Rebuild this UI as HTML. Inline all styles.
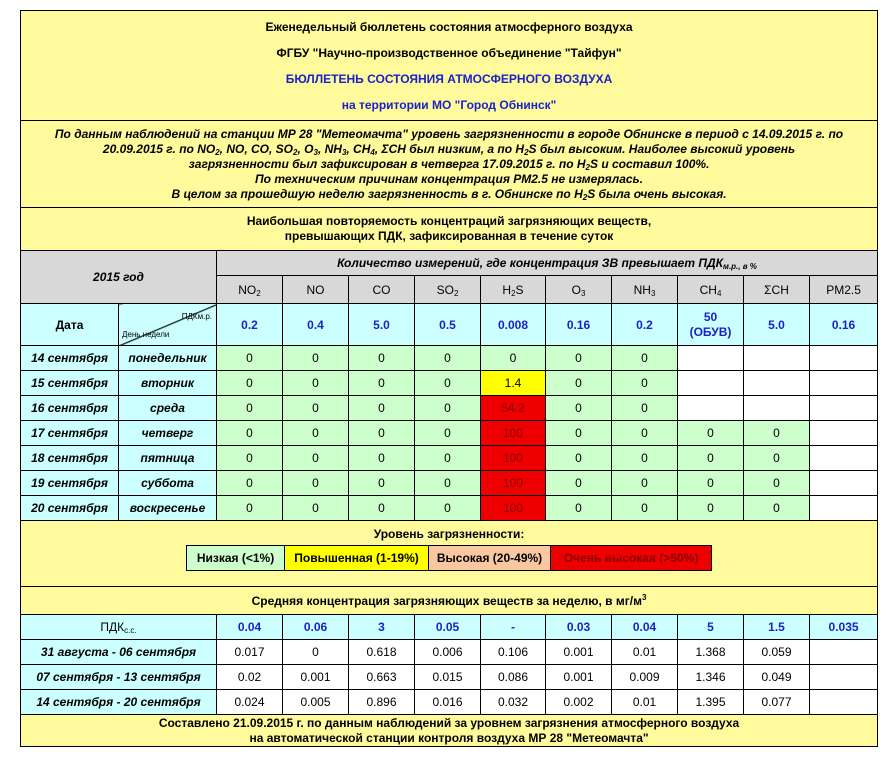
<!DOCTYPE html>
<html><head><meta charset="utf-8"><style>
body{margin:0;background:#fff;width:894px;height:768px;overflow:hidden;font-family:"Liberation Sans",Arial,sans-serif;}
.box{position:absolute;left:20px;top:10px;width:857px;}
table{border-collapse:collapse;table-layout:fixed;width:857px;}
td{border:1px solid #000;text-align:center;font-size:12px;padding:0;color:#000;overflow:hidden;white-space:nowrap}
.y{background:#fffa9c;font-weight:bold}
.g{background:#d8d8d8}
.c{background:#ccffff}
.l{background:#ccffcc}
.w{background:#fff}
.yl{background:#ffff00}
.r{background:#ee0000;color:#800}
.b{color:#1a22c8;font-weight:bold}
.bi{font-weight:bold;font-style:italic}
sub{font-size:8px;line-height:0;vertical-align:-2px}
sup{line-height:0}
</style></head><body>
<div class="box">
<table>
<colgroup><col style="width:98px"><col style="width:98px"><col style="width:66px"><col style="width:66px"><col style="width:66px"><col style="width:66px"><col style="width:65px"><col style="width:66px"><col style="width:66px"><col style="width:66px"><col style="width:66px"><col style="width:68px"></colgroup>
<tr style="height:110px"><td colspan="12" class="y" style="line-height:26px">Еженедельный бюллетень состояния атмосферного воздуха<br>ФГБУ "Научно-производственное объединение "Тайфун"<br><span style="color:#1a22c8">БЮЛЛЕТЕНЬ СОСТОЯНИЯ АТМОСФЕРНОГО ВОЗДУХА</span><br><span style="color:#1a22c8">на территории МО "Город Обнинск"</span></td></tr>
<tr style="height:87px"><td colspan="12" class="y" style="font-style:italic;line-height:15px;font-size:12px">По данным наблюдений на станции МР 28 "Метеомачта" уровень загрязненности в городе Обнинске в период с 14.09.2015 г. по<br>20.09.2015 г. по NO<sub>2</sub>, NO, CO, SO<sub>2</sub>, O<sub>3</sub>, NH<sub>3</sub>, CH<sub>4</sub>, ΣCH был низким, а по H<sub>2</sub>S был высоким. Наиболее высокий уровень<br>загрязненности был зафиксирован в четверга 17.09.2015 г. по H<sub>2</sub>S и составил 100%.<br>По техническим причинам концентрация PM2.5 не измерялась.<br>В целом за прошедшую неделю загрязненность в г. Обнинске по H<sub>2</sub>S была очень высокая.</td></tr>
<tr style="height:43px"><td colspan="12" class="y" style="line-height:15px">Наибольшая повторяемость концентраций загрязняющих веществ,<br>превышающих ПДК, зафиксированная в течение суток</td></tr>
<tr style="height:25px"><td colspan="2" rowspan="2" class="g bi">2015 год</td><td colspan="10" class="g bi">Количество измерений, где концентрация ЗВ превышает ПДК<sub>м.р., в %</sub></td></tr>
<tr style="height:28px" class="g"><td class="g">NO<sub>2</sub></td><td class="g">NO</td><td class="g">CO</td><td class="g">SO<sub>2</sub></td><td class="g">H<sub>2</sub>S</td><td class="g">O<sub>3</sub></td><td class="g">NH<sub>3</sub></td><td class="g">CH<sub>4</sub></td><td class="g">ΣCH</td><td class="g">PM2.5</td></tr>
<tr style="height:42px"><td class="c" style="font-weight:bold">Дата</td><td class="c" style="position:relative;background:#ccffff linear-gradient(to bottom right,transparent 49%,#000 50%,transparent 52%)"><span style="position:absolute;right:4px;top:8px;font-size:8px">ПДКм.р.</span><span style="position:absolute;left:3px;bottom:6px;font-size:8px">День недели</span></td><td class="c b">0.2</td><td class="c b">0.4</td><td class="c b">5.0</td><td class="c b">0.5</td><td class="c b">0.008</td><td class="c b">0.16</td><td class="c b">0.2</td><td class="c b" style="line-height:15px">50<br>(ОБУВ)</td><td class="c b">5.0</td><td class="c b">0.16</td></tr>
<tr style="height:25px"><td class="c bi">14 сентября</td><td class="c bi">понедельник</td><td class="l">0</td><td class="l">0</td><td class="l">0</td><td class="l">0</td><td class="l">0</td><td class="l">0</td><td class="l">0</td><td class="w"></td><td class="w"></td><td class="w"></td></tr>
<tr style="height:25px"><td class="c bi">15 сентября</td><td class="c bi">вторник</td><td class="l">0</td><td class="l">0</td><td class="l">0</td><td class="l">0</td><td class="yl">1.4</td><td class="l">0</td><td class="l">0</td><td class="w"></td><td class="w"></td><td class="w"></td></tr>
<tr style="height:25px"><td class="c bi">16 сентября</td><td class="c bi">среда</td><td class="l">0</td><td class="l">0</td><td class="l">0</td><td class="l">0</td><td class="r">54.2</td><td class="l">0</td><td class="l">0</td><td class="w"></td><td class="w"></td><td class="w"></td></tr>
<tr style="height:25px"><td class="c bi">17 сентября</td><td class="c bi">четверг</td><td class="l">0</td><td class="l">0</td><td class="l">0</td><td class="l">0</td><td class="r">100</td><td class="l">0</td><td class="l">0</td><td class="l">0</td><td class="l">0</td><td class="w"></td></tr>
<tr style="height:25px"><td class="c bi">18 сентября</td><td class="c bi">пятница</td><td class="l">0</td><td class="l">0</td><td class="l">0</td><td class="l">0</td><td class="r">100</td><td class="l">0</td><td class="l">0</td><td class="l">0</td><td class="l">0</td><td class="w"></td></tr>
<tr style="height:25px"><td class="c bi">19 сентября</td><td class="c bi">суббота</td><td class="l">0</td><td class="l">0</td><td class="l">0</td><td class="l">0</td><td class="r">100</td><td class="l">0</td><td class="l">0</td><td class="l">0</td><td class="l">0</td><td class="w"></td></tr>
<tr style="height:25px"><td class="c bi">20 сентября</td><td class="c bi">воскресенье</td><td class="l">0</td><td class="l">0</td><td class="l">0</td><td class="l">0</td><td class="r">100</td><td class="l">0</td><td class="l">0</td><td class="l">0</td><td class="l">0</td><td class="w"></td></tr>
<tr style="height:66px"><td colspan="12" class="y" style="vertical-align:top;padding-top:6px">Уровень загрязненности:
<table style="width:526px;margin:4px auto 0;"><tr style="height:25px"><td class="l" style="width:97px;font-weight:bold">Низкая (&lt;1%)</td><td class="yl" style="width:143px;font-weight:bold">Повышенная (1-19%)</td><td style="width:121px;background:#fac8a0;font-weight:bold">Высокая (20-49%)</td><td class="r" style="font-weight:bold">Очень высокая (&gt;50%)</td></tr></table></td></tr>
<tr style="height:28px"><td colspan="12" class="y">Средняя концентрация загрязняющих веществ за неделю, в мг/м<sup style="font-size:8px">3</sup></td></tr>
<tr style="height:25px"><td colspan="2" class="c">ПДК<sub>с.с.</sub></td><td class="c b">0.04</td><td class="c b">0.06</td><td class="c b">3</td><td class="c b">0.05</td><td class="c b">-</td><td class="c b">0.03</td><td class="c b">0.04</td><td class="c b">5</td><td class="c b">1.5</td><td class="c b">0.035</td></tr>
<tr style="height:25px"><td colspan="2" class="c bi">31 августа - 06 сентября</td><td class="w">0.017</td><td class="w">0</td><td class="w">0.618</td><td class="w">0.006</td><td class="w">0.106</td><td class="w">0.001</td><td class="w">0.01</td><td class="w">1.368</td><td class="w">0.059</td><td class="w"></td></tr>
<tr style="height:25px"><td colspan="2" class="c bi">07 сентября - 13 сентября</td><td class="w">0.02</td><td class="w">0.001</td><td class="w">0.663</td><td class="w">0.015</td><td class="w">0.086</td><td class="w">0.001</td><td class="w">0.009</td><td class="w">1.346</td><td class="w">0.049</td><td class="w"></td></tr>
<tr style="height:25px"><td colspan="2" class="c bi">14 сентября - 20 сентября</td><td class="w">0.024</td><td class="w">0.005</td><td class="w">0.896</td><td class="w">0.016</td><td class="w">0.032</td><td class="w">0.002</td><td class="w">0.01</td><td class="w">1.395</td><td class="w">0.077</td><td class="w"></td></tr>
<tr style="height:32px"><td colspan="12" class="y" style="line-height:15px">Составлено 21.09.2015 г. по данным наблюдений за уровнем загрязнения атмосферного воздуха<br>на автоматической станции контроля воздуха МР 28 "Метеомачта"</td></tr>
</table>
</div>
</body></html>
